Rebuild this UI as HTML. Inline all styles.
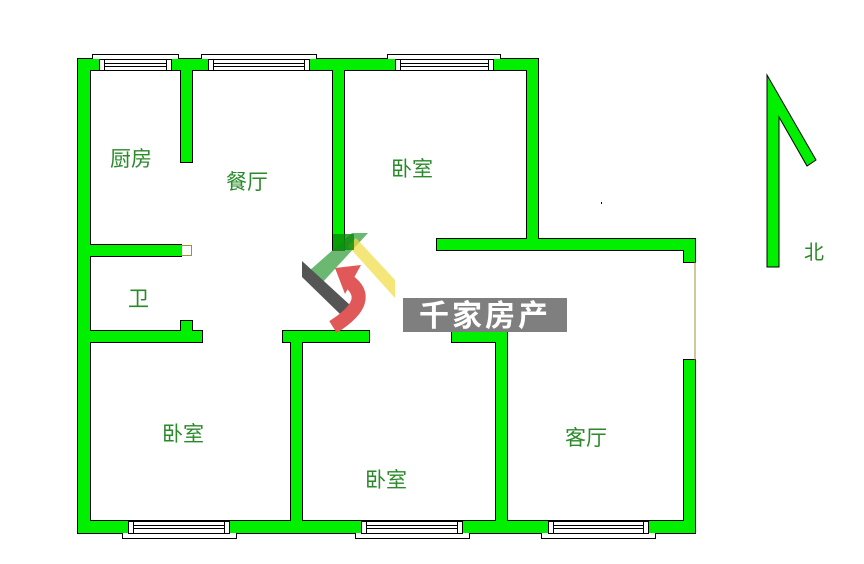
<!DOCTYPE html>
<html><head><meta charset="utf-8"><style>
html,body{margin:0;padding:0;background:#fff;}
svg{display:block;}
.t{font-family:"Liberation Sans","Noto Sans CJK SC",sans-serif;font-size:21px;fill:#2a8a2a;}
</style></head><body>
<svg width="864" height="564" viewBox="0 0 864 564" xmlns="http://www.w3.org/2000/svg">
<g fill="#00f000" stroke="#000" stroke-width="2">
<rect x="78" y="59" width="460" height="11"/>
<rect x="78" y="59" width="12" height="474"/>
<rect x="78" y="521" width="617" height="12"/>
<rect x="684" y="360" width="11" height="173"/>
<rect x="684" y="239" width="11" height="23"/>
<rect x="437" y="239" width="258" height="11"/>
<rect x="527" y="59" width="11" height="191"/>
<rect x="333" y="59" width="11" height="191"/>
<rect x="181" y="59" width="11" height="103"/>
<rect x="78" y="245" width="103" height="11"/>
<rect x="78" y="331" width="124" height="11"/>
<rect x="181" y="321" width="11" height="12"/>
<rect x="283" y="331" width="86" height="11"/>
<rect x="291" y="331" width="11" height="190"/>
<rect x="452" y="331" width="55" height="11"/>
<rect x="496" y="331" width="11" height="190"/>
</g>
<g fill="#00f000">
<rect x="78" y="59" width="460" height="11"/>
<rect x="78" y="59" width="12" height="474"/>
<rect x="78" y="521" width="617" height="12"/>
<rect x="684" y="360" width="11" height="173"/>
<rect x="684" y="239" width="11" height="23"/>
<rect x="437" y="239" width="258" height="11"/>
<rect x="527" y="59" width="11" height="191"/>
<rect x="333" y="59" width="11" height="191"/>
<rect x="181" y="59" width="11" height="103"/>
<rect x="78" y="245" width="103" height="11"/>
<rect x="78" y="331" width="124" height="11"/>
<rect x="181" y="321" width="11" height="12"/>
<rect x="283" y="331" width="86" height="11"/>
<rect x="291" y="331" width="11" height="190"/>
<rect x="452" y="331" width="55" height="11"/>
<rect x="496" y="331" width="11" height="190"/>
</g>
<rect x="181.5" y="245.5" width="10" height="10" fill="#fff" stroke="#a09030" stroke-width="1"/>
<line x1="695" y1="262" x2="695" y2="360" stroke="#a09030" stroke-width="1"/>
<g fill="#fff" stroke="#000" stroke-width="1">
<path d="M92.5 59 V54.5 H178.5 V59"/><path d="M201.5 59 V54.5 H316.5 V59"/><path d="M387.5 59 V54.5 H500.5 V59"/>
<rect x="99.5" y="59.5" width="72" height="11"/><rect x="208.5" y="59.5" width="101" height="11"/><rect x="395.5" y="59.5" width="98" height="11"/>
<rect x="99.5" y="59.5" width="5" height="11"/><rect x="166.5" y="59.5" width="5" height="11"/>
<rect x="208.5" y="59.5" width="5" height="11"/><rect x="304.5" y="59.5" width="5" height="11"/>
<rect x="395.5" y="59.5" width="5" height="11"/><rect x="488.5" y="59.5" width="5" height="11"/>
<path d="M104 63.5H166M104 66.5H166M213 63.5H304M213 66.5H304M400 63.5H488M400 66.5H488" fill="none"/>
<path d="M122.5 533 V538.5 H236.5 V533"/><path d="M355.5 533 V538.5 H469.5 V533"/><path d="M541.5 533 V538.5 H655.5 V533"/>
<rect x="128.5" y="521.5" width="101" height="12"/><rect x="361.5" y="521.5" width="101" height="12"/><rect x="548.5" y="521.5" width="100" height="12"/>
<rect x="128.5" y="521.5" width="5" height="12"/><rect x="224.5" y="521.5" width="5" height="12"/>
<rect x="361.5" y="521.5" width="5" height="12"/><rect x="457.5" y="521.5" width="5" height="12"/>
<rect x="548.5" y="521.5" width="5" height="12"/><rect x="643.5" y="521.5" width="5" height="12"/>
<path d="M133 525.5H224M133 528.5H224M366 525.5H457M366 528.5H457M553 525.5H643M553 528.5H643" fill="none"/>
</g>
<polygon points="767,75 767,267 779,267 779,117 807,166 816,160" fill="#00f000" stroke="#000" stroke-width="1"/>
<text class="t" x="804" y="259" style="font-size:20px">北</text>
<rect x="601" y="202" width="1" height="2" fill="#000"/>
<polygon points="352,233 368,233 322,283 309,271" fill="#3aa040" opacity="0.75"/>
<polygon points="348,246 356,238 395,280 395,298" fill="#f0dc40" opacity="0.7"/>
<rect x="333" y="234" width="21" height="16" fill="#0a8a0a" opacity="0.8"/>
<polygon points="302,261 302,277 340,314 350,305" fill="#555"/>
<path d="M347 280 Q376 300 333 327" fill="none" stroke="#e05858" stroke-width="14"/>
<polygon points="335,268 361,265 345,294" fill="#e05858"/>
<rect x="403" y="298" width="164" height="34" fill="#7f7f7f"/>
<text x="485" y="326" text-anchor="middle" fill="#fff" style="font-family:'Liberation Sans','Noto Sans CJK SC',sans-serif;font-size:30px;font-weight:bold;letter-spacing:3px">千家房产</text>
<text class="t" x="110" y="166">厨房</text>
<text class="t" x="226" y="189">餐厅</text>
<text class="t" x="391" y="176">卧室</text>
<text class="t" x="128" y="306">卫</text>
<text class="t" x="162" y="441">卧室</text>
<text class="t" x="365" y="487">卧室</text>
<text class="t" x="565" y="445">客厅</text>
</svg>
</body></html>
